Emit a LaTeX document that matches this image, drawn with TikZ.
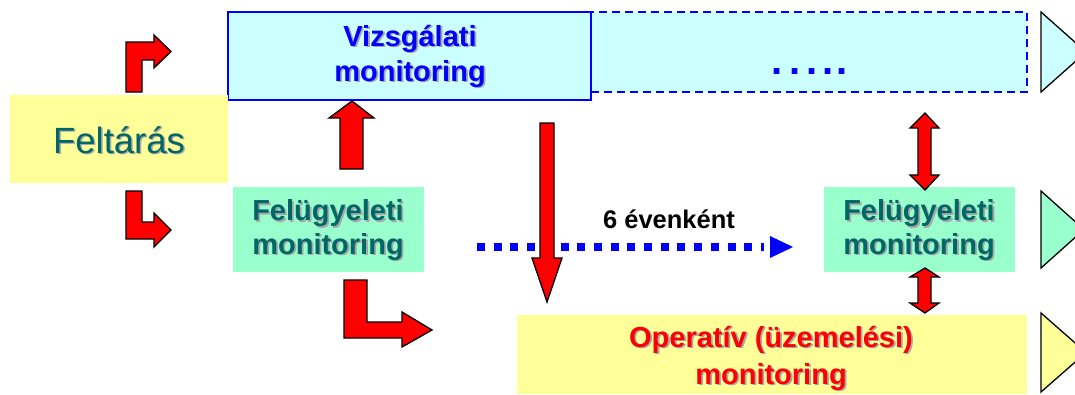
\documentclass[tikz,border=0pt]{standalone}
\usepackage{fontspec}
\setmainfont{Liberation Sans}
\definecolor{boxyellow}{HTML}{FFFF99}
\definecolor{boxcyan}{HTML}{CCFFFF}
\definecolor{boxgreen}{HTML}{99FFCC}
\definecolor{tealtxt}{HTML}{006666}
\definecolor{shadowgray}{HTML}{A8A8A8}
\begin{document}
\begin{tikzpicture}[x=1pt,y=-1pt,
  redarrow/.style={fill=red, draw=black, line width=1.3pt, line join=miter},
  plainbox/.style={inner sep=0pt, outer sep=0pt, draw=none},
  tri/.style={draw=black, line width=1.3pt, line join=miter},
  boldtxt/.style={font=\bfseries\fontsize{29}{35}\selectfont, inner sep=0pt, anchor=base},
  feltxt/.style={font=\bfseries\fontsize{29}{35}\selectfont, inner sep=0pt, anchor=base},
  bigtxt/.style={font=\fontsize{36.5}{44}\selectfont, inner sep=0pt, anchor=base},
  smalltxt/.style={font=\bfseries\fontsize{25.5}{30}\selectfont, inner sep=0pt, anchor=base},
  dottxt/.style={font=\bfseries\fontsize{40}{48}\selectfont, inner sep=0pt, anchor=base},
  shd/.style={text=shadowgray}
]
\useasboundingbox (0,0) rectangle (1075,394);
\clip (0,0) rectangle (1075,394);

% boxes
\node[plainbox, fill=boxcyan, draw=blue, line width=1.6pt, dash pattern=on 8pt off 5pt,
  minimum width=436pt, minimum height=80pt] (dbox) at (809,52) {};
\node[plainbox, fill=boxcyan, draw=blue, line width=1.6pt,
  minimum width=363pt, minimum height=88pt] (viz) at (409.5,56) {};
\node[plainbox, fill=boxyellow, minimum width=218pt, minimum height=88pt] (felt) at (119,139) {};
\node[plainbox, fill=boxgreen, minimum width=191pt, minimum height=85pt] (felL) at (328.5,229.5) {};
\node[plainbox, fill=boxgreen, minimum width=191pt, minimum height=85pt] (felR) at (919.5,229.5) {};
\node[plainbox, fill=boxyellow, minimum width=510pt, minimum height=79pt] (oper) at (772,354.5) {};

% right triangles
\draw[tri, fill=boxcyan] (1041,12) -- (1086,52) -- (1041,92) -- cycle;
\draw[tri, fill=boxgreen] (1041,191) -- (1084,229.5) -- (1041,268) -- cycle;
\draw[tri, fill=boxyellow] (1041,313) -- (1086,352.5) -- (1041,392) -- cycle;

% texts
\node[boldtxt, shd] (vizAs) at (411.8,47.8) {Vizsgálati};
\node[boldtxt, text=blue] (vizA) at (410,46) {Vizsgálati};
\node[boldtxt, shd] (vizBs) at (411.8,82.8) {monitoring};
\node[boldtxt, text=blue] (vizB) at (410,81) {monitoring};

\node[dottxt, text=blue] (dots) at (810,74.5) {.\kern6pt.\kern6pt.\kern5pt.\kern3.5pt.};

\node[bigtxt, shd] (feltTs) at (120.5,154.5) {Feltárás};
\node[bigtxt, text=tealtxt] (feltT) at (119,153) {Feltárás};

\node[feltxt, shd] (felLAs) at (329.8,222.3) {Felügyeleti};
\node[feltxt, text=tealtxt] (felLA) at (328,220.5) {Felügyeleti};
\node[feltxt, shd] (felLBs) at (329.8,255.8) {monitoring};
\node[feltxt, text=tealtxt] (felLB) at (328,254) {monitoring};

\node[feltxt, shd] (felRAs) at (920.8,222.3) {Felügyeleti};
\node[feltxt, text=tealtxt] (felRA) at (919,220.5) {Felügyeleti};
\node[feltxt, shd] (felRBs) at (920.8,255.8) {monitoring};
\node[feltxt, text=tealtxt] (felRB) at (919,254) {monitoring};

\node[boldtxt, shd] (operAs) at (772.8,348.8) {Operatív (üzemelési)};
\node[boldtxt, text=red] (operA) at (771,347) {Operatív (üzemelési)};
\node[boldtxt, shd] (operBs) at (772.8,385.8) {monitoring};
\node[boldtxt, text=red] (operB) at (771,384) {monitoring};

\node[smalltxt] (six) at (669,228.3) {6 évenként};

% dotted blue arrow
\draw[blue, line width=8pt, dash pattern=on 8pt off 8.7pt] (477,247) -- (764,247);
\fill[blue] (770,236) -- (793,247) -- (770,258) -- cycle;

% red block arrows
\draw[redarrow] (126,92) -- (126,42) -- (154,42) -- (154,35) -- (171,51.5) -- (154,68) -- (154,60) -- (142,60) -- (142,92) -- cycle;
\draw[redarrow] (126,191) -- (142,191) -- (142,222) -- (154,222) -- (154,213) -- (171,230) -- (154,247) -- (154,239) -- (126,239) -- cycle;
\draw[redarrow] (340,169) -- (340,118) -- (329,118) -- (352,101) -- (374,118) -- (363,118) -- (363,169) -- cycle;
\draw[redarrow] (540,123) -- (554,123) -- (554,258) -- (562,258) -- (547,302) -- (532,258) -- (540,258) -- cycle;
\draw[redarrow] (344,280) -- (367,280) -- (367,322) -- (402,322) -- (402,312) -- (432,330) -- (402,347) -- (402,338) -- (344,338) -- cycle;
\draw[redarrow] (918,128) -- (910,128) -- (925,113) -- (939,128) -- (931,128) -- (931,175) -- (939,175) -- (925,190) -- (910,175) -- (918,175) -- cycle;
\draw[redarrow] (918,277) -- (910,277) -- (925,268) -- (939,277) -- (931,277) -- (931,303) -- (939,303) -- (925,313) -- (910,303) -- (918,303) -- cycle;
\end{tikzpicture}
\end{document}
